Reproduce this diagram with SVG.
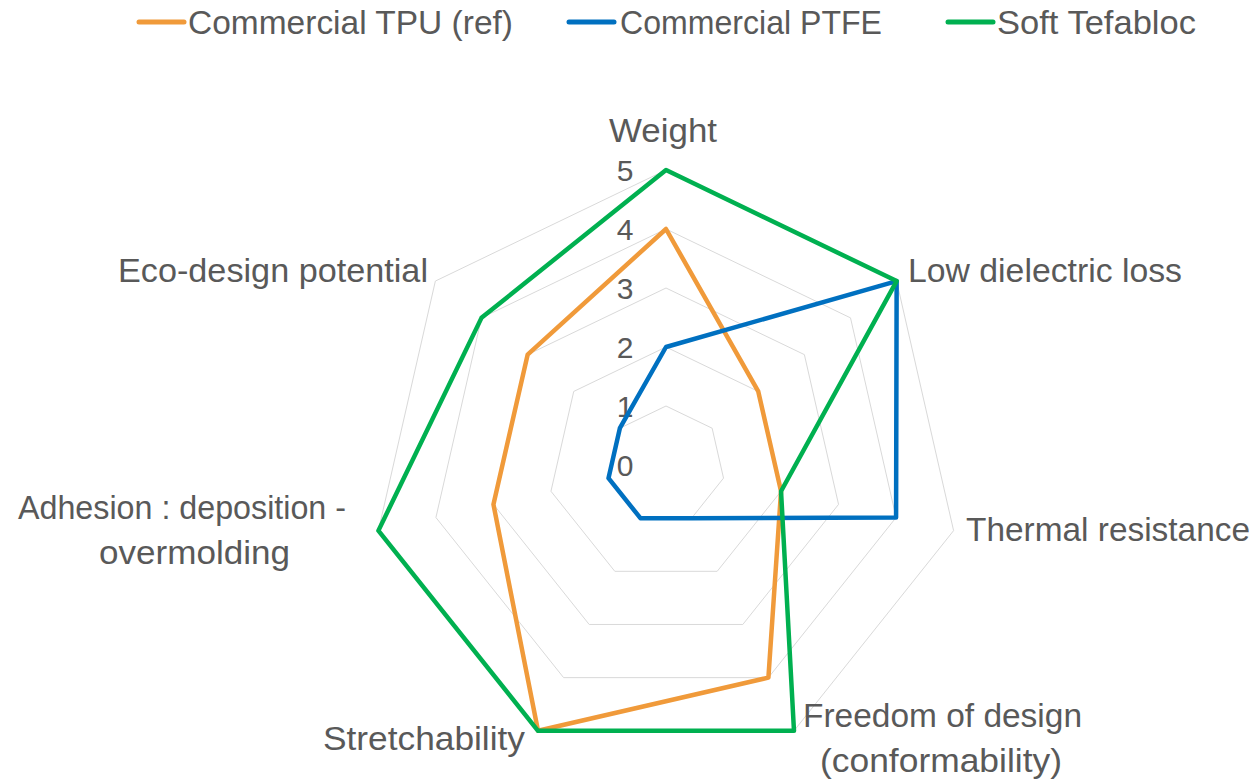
<svg xmlns="http://www.w3.org/2000/svg" width="1257" height="781" viewBox="0 0 1257 781">
<style>
.t{font-family:"Liberation Sans",Arial,sans-serif;font-size:33.5px;fill:#595959}
.n{font-family:"Liberation Sans",Arial,sans-serif;font-size:30px;fill:#595959;text-anchor:middle}
.g{fill:none;stroke:#D9D9D9;stroke-width:1}
.s{fill:none;stroke-width:4.5;stroke-linejoin:round}
.tpu{stroke:#F09A3A}
.ptfe{stroke:#0070C0}
.tef{stroke:#00B050}
.lg{stroke-width:5;stroke-linecap:round}
</style>
<rect width="1257" height="781" fill="#FFFFFF"/>
<g id="legend">
<line class="lg tpu" x1="139" y1="22" x2="184" y2="22"/>
<text class="t" x="188" y="34" textLength="325" lengthAdjust="spacingAndGlyphs">Commercial TPU (ref)</text>
<line class="lg ptfe" x1="569" y1="22" x2="614" y2="22"/>
<text class="t" x="620" y="34" textLength="262" lengthAdjust="spacingAndGlyphs">Commercial PTFE</text>
<line class="lg tef" x1="948" y1="22" x2="993" y2="22"/>
<text class="t" x="997" y="34" textLength="199" lengthAdjust="spacingAndGlyphs">Soft Tefabloc</text>
</g>
<g id="grid">
<polygon class="g" points="666,406 712.13,428.21 723.52,478.13 691.6,518.16 640.4,518.16 608.48,478.13 619.87,428.21"/>
<polygon class="g" points="666,347 758.26,391.43 781.04,491.26 717.2,571.31 614.8,571.31 550.96,491.26 573.74,391.43"/>
<polygon class="g" points="666,288 804.38,354.64 838.56,504.39 742.8,624.47 589.2,624.47 493.44,504.39 527.62,354.64"/>
<polygon class="g" points="666,229 850.51,317.86 896.08,517.51 768.4,677.63 563.6,677.63 435.92,517.51 481.49,317.86"/>
<polygon class="g" points="666,170 896.64,281.07 953.6,530.64 793.99,730.79 538.01,730.79 378.4,530.64 435.36,281.07"/>
</g>
<g id="scale">
<text class="n" x="625" y="181">5</text>
<text class="n" x="625" y="240">4</text>
<text class="n" x="625" y="299">3</text>
<text class="n" x="625" y="358">2</text>
<text class="n" x="625" y="417">1</text>
<text class="n" x="625" y="476">0</text>
</g>
<g id="connectors">
<polygon id="series-tpu" class="s tpu" points="666,229 758.26,391.43 781.04,491.26 768.4,677.63 538.01,730.79 493.44,504.39 527.62,354.64"/>
<polygon id="series-ptfe" class="s ptfe" points="666,347 896.64,281.07 896.08,517.51 691.6,518.16 640.4,518.16 608.48,478.13 619.87,428.21"/>
<polygon id="series-tef" class="s tef" points="666,170 896.64,281.07 781.04,491.26 793.99,730.79 538.01,730.79 378.4,530.64 481.49,317.86"/>
</g>
<g id="axis-weight"><text class="t" x="609" y="142" textLength="108" lengthAdjust="spacingAndGlyphs">Weight</text></g>
<g id="axis-dielectric"><text class="t" x="908" y="282" textLength="274" lengthAdjust="spacingAndGlyphs">Low dielectric loss</text></g>
<g id="axis-thermal"><text class="t" x="966" y="541" textLength="284" lengthAdjust="spacingAndGlyphs">Thermal resistance</text></g>
<g id="axis-freedom">
<text class="t" x="803" y="727" textLength="279" lengthAdjust="spacingAndGlyphs">Freedom of design</text>
<text class="t" x="820" y="772" textLength="242" lengthAdjust="spacingAndGlyphs">(conformability)</text>
</g>
<g id="axis-stretch"><text class="t" x="323" y="750" textLength="202" lengthAdjust="spacingAndGlyphs">Stretchability</text></g>
<g id="axis-adhesion">
<text class="t" x="18" y="519" textLength="328" lengthAdjust="spacingAndGlyphs">Adhesion : deposition -</text>
<text class="t" x="99" y="564" textLength="191" lengthAdjust="spacingAndGlyphs">overmolding</text>
</g>
<g id="axis-eco"><text class="t" x="118" y="282" textLength="310" lengthAdjust="spacingAndGlyphs">Eco-design potential</text></g>
</svg>
